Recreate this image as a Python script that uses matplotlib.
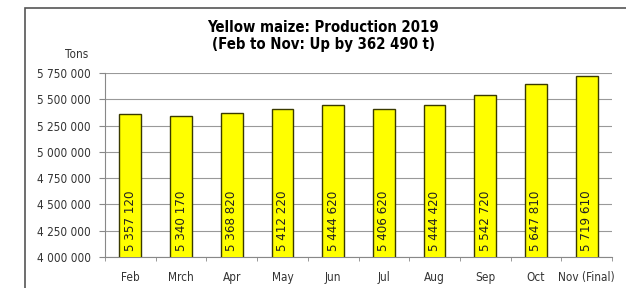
import matplotlib.pyplot as plt
from matplotlib.patches import Rectangle
import numpy as np

months = ['Feb', 'Mrch', 'Apr', 'May', 'Jun', 'Jul', 'Aug', 'Sep', 'Oct', 'Nov (Final)']
tons = [5357120, 5340170, 5368820, 5412220, 5444620, 5406620, 5444420, 5542720, 5647810, 5719610]
yticks = [4000000, 4250000, 4500000, 4750000, 5000000, 5250000, 5500000, 5750000]


def fmt(v):
    return f'{v:,}'.replace(',', ' ')


plt.rcParams['font.family'] = ['DejaVu Sans']
plt.rcParams['font.stretch'] = 'condensed'

fig = plt.figure(figsize=(6.26, 2.88), dpi=100)
# outer chart frame
fig.patches.append(Rectangle((25 / 626, -0.05), 1.0, 1 - 8 / 288 + 0.05,
                             transform=fig.transFigure, fill=False,
                             edgecolor='#555555', lw=1.2))

ax = fig.add_axes([105 / 626, 1 - 257 / 288, (612 - 105) / 626, (257 - 73) / 288])
x = np.arange(len(months))
ax.bar(x, tons, width=0.43, color='#ffff00', edgecolor='#3a3a00', lw=1.0, zorder=3)
for xi, v in zip(x, tons):
    ax.text(xi, 4055000, fmt(v), rotation=90, ha='center', va='bottom',
            fontsize=9.5, color='#222222', zorder=4)

ax.set_ylim(4000000, 5750000)
ax.set_xlim(-0.5, len(months) - 0.5)
ax.set_yticks(yticks)
ax.set_yticklabels([fmt(v) for v in yticks], fontsize=8.5, color='#333333')
ax.set_xticks(x)
ax.set_xticklabels(months, fontsize=8.5, color='#333333')
ax.tick_params(axis='x', length=0, pad=10)
ax.tick_params(axis='y', length=4, color='#888888', pad=6)
ax.set_xticks(np.arange(-0.5, len(months)), minor=True)
ax.tick_params(axis='x', which='minor', length=3, color='#888888')
ax.grid(axis='y', color='#999999', lw=0.8, zorder=0)
for s in ['top', 'right']:
    ax.spines[s].set_visible(False)
ax.spines['left'].set_color('#888888')
ax.spines['bottom'].set_color('#888888')

fig.text(77 / 626, 1 - 58 / 288, 'Tons', fontsize=8.5, color='#333333', ha='center')
fig.text(323 / 626, 1 - 27 / 288, 'Yellow maize: Production 2019', fontsize=10.7,
         fontweight='bold', ha='center', va='center')
fig.text(323 / 626, 1 - 45 / 288, '(Feb to Nov: Up by 362 490 t)', fontsize=10.7,
         fontweight='bold', ha='center', va='center')

fig.savefig('out.png', dpi=100)
